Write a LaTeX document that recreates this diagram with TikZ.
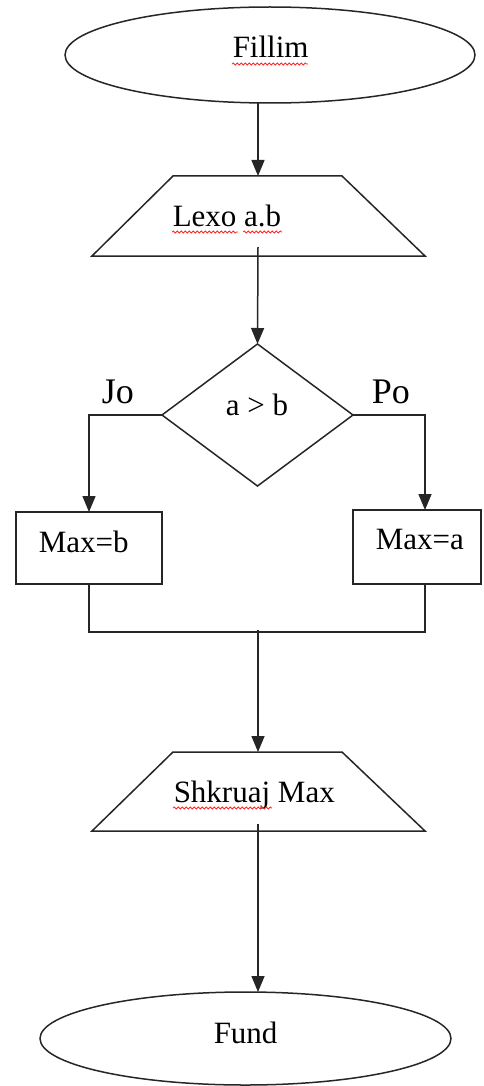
\documentclass[tikz,border=0pt]{standalone}
\usepackage{fontspec}
\setmainfont{Liberation Serif}
\usetikzlibrary{shapes.geometric,arrows.meta,decorations.pathmorphing}
\begin{document}
\begin{tikzpicture}[x=1pt,y=-1pt,
  line width=1.5pt,
  shp/.style={draw=black!85, inner sep=0pt, outer sep=0pt},
  oval/.style={shp, ellipse},
  io/.style={draw=black!85, line join=miter},
  box/.style={shp, rectangle},
  cond/.style={shp, diamond},
  lbl/.style={inner sep=0pt, anchor=base west, font=\fontsize{31}{37}\selectfont},
  big/.style={inner sep=0pt, anchor=base west, font=\fontsize{36}{42}\selectfont},
  arr/.style={draw=black!85, -{Triangle[width=13pt,length=16pt]}},
  con/.style={draw=black!85},
  wavy/.style={draw=red!85, line width=0.8pt, decorate, decoration={snake, amplitude=1pt, segment length=4pt}}
]
\useasboundingbox (0,0) rectangle (483,1086);
\coordinate (axis) at (258,0);
% shapes
\node[oval, minimum width=410pt, minimum height=96pt] (start) at (270,55) {};
\draw[io] (173,176) -- (342,176) -- (425,256) -- (92,256) -- cycle;
\coordinate (lexoN) at (258,176);
\coordinate (lexoS) at (258,256);
\node[cond, minimum width=191pt, minimum height=142pt] (dec) at (257.5,415) {};
\node[box, minimum width=146pt, minimum height=72pt] (maxb) at (89,548) {};
\node[box, minimum width=128pt, minimum height=74pt] (maxa) at (417,547) {};
\draw[io] (173,752) -- (342,752) -- (425,831) -- (92,831) -- cycle;
\coordinate (shkN) at (258,752);
\coordinate (shkS) at (258,831);
\node[oval, minimum width=411pt, minimum height=93pt] (end) at (245.5,1038.5) {};
\coordinate (join) at (258,632);
% texts
\node[lbl] (t1) at (232,58) {Fillim};
\node[lbl] (t2) at (172,226) {Lexo a.b};
\node[lbl] (t3) at (225,415) {a > b};
\node[lbl] (t4) at (38,552) {Max=b};
\node[lbl] (t5) at (375,549) {Max=a};
\node[lbl] (t6) at (173,802) {Shkruaj Max};
\node[lbl] (t7) at (213,1043) {Fund};
\node[big] (jo) at (101,403) {Jo};
\node[big] (po) at (371,403) {Po};
% spell-check squiggles
\draw[wavy] (232,64) -- (308,64);
\draw[wavy] (172,232) -- (238,232);
\draw[wavy] (243,232) -- (282,232);
\draw[wavy] (173,808) -- (272,808);
% connectors
\draw[arr] (start.south -| axis) -- (lexoN);
\draw[arr] ([yshift=9pt]lexoS) -- (dec.north);
\draw[arr] (dec.west) -| (maxb.north);
\draw[arr] (dec.east) -| ([xshift=8pt]maxa.north);
\draw[con] (maxb.south) |- (join) -| ([xshift=8pt]maxa.south);
\draw[arr] ([yshift=2pt]join) -- (shkN);
\draw[arr] ([yshift=7pt]shkS) -- (end.north -| axis);
\end{tikzpicture}
\end{document}
